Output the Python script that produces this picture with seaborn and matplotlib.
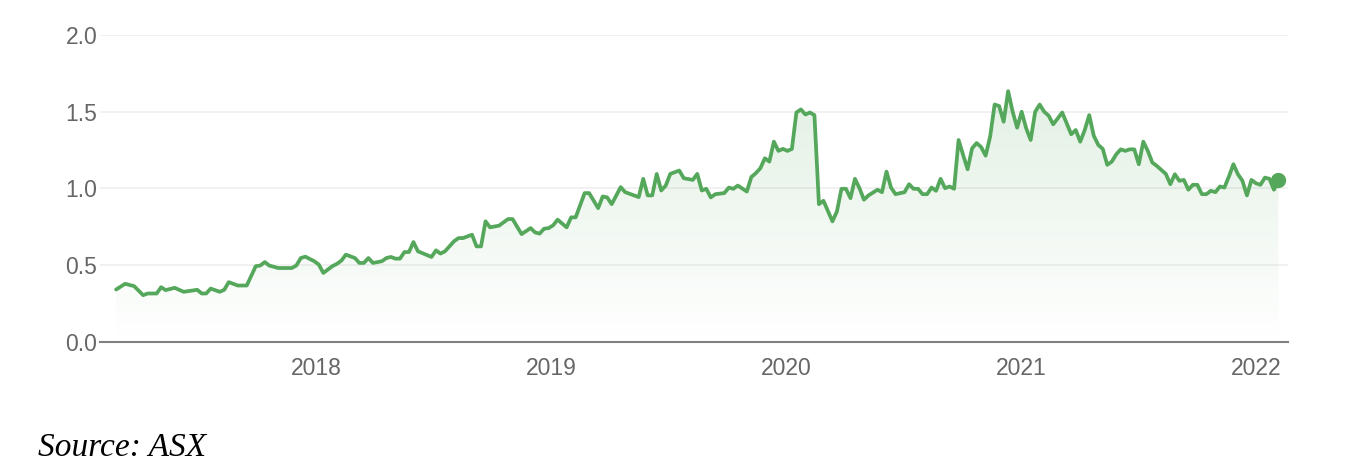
import numpy as np
import pandas as pd
import matplotlib
matplotlib.use("Agg")
import matplotlib.pyplot as plt
import matplotlib.dates as mdates
from matplotlib.colors import LinearSegmentedColormap
import seaborn as sns

# weekly closes (week offset from first point, price in $)
start_date = "2017-02-24"
weeks = [0, 2, 4, 6, 7, 9, 10, 11, 13, 15, 18, 19, 20, 21, 23, 24, 25, 27, 29,
         31, 32, 33, 34, 36, 39, 40, 41, 42, 44, 45, 46, 48, 49, 50, 51, 53, 54,
         55, 56, 57, 59, 60, 61, 62, 63, 64, 65, 66, 67, 70, 71, 72, 73, 75, 76,
         77, 79, 80, 81, 82, 83, 85, 87, 88, 90, 92, 93, 94, 95, 96, 97, 98, 100,
         101, 102, 104, 105, 107, 108, 109, 110, 112, 113, 116, 117, 118, 119,
         120, 121, 122, 123, 125, 126, 128, 129, 130, 131, 132, 133, 135, 136,
         137, 138, 140, 141, 142, 143, 144, 145, 146, 147, 148, 149, 150, 151,
         152, 153, 154, 155, 156, 157, 159, 160, 161, 162, 163, 164, 165, 166,
         167, 169, 170, 171, 172, 173, 175, 176, 177, 178, 179, 180, 181, 182,
         183, 184, 185, 186, 187, 188, 189, 190, 191, 192, 193, 194, 195, 196,
         197, 198, 199, 200, 201, 202, 203, 204, 205, 206, 207, 208, 210, 211,
         212, 213, 214, 215, 216, 217, 218, 219, 220, 221, 222, 223, 224, 225,
         226, 227, 228, 229, 230, 231, 232, 233, 234, 235, 236, 237, 238, 239,
         240, 241, 242, 243, 244, 245, 246, 247, 248, 249, 250, 251, 252, 253,
         254, 255, 256, 257, 258]
prices = [0.342, 0.379, 0.364, 0.305, 0.316, 0.316, 0.357, 0.338, 0.353, 0.327,
          0.340, 0.316, 0.316, 0.348, 0.327, 0.340, 0.390, 0.368, 0.368,
          0.494, 0.498, 0.521, 0.498, 0.482, 0.482, 0.498, 0.547, 0.556, 0.526,
          0.504, 0.450, 0.494, 0.509, 0.530, 0.569, 0.547, 0.515,
          0.515, 0.547, 0.515, 0.526, 0.547, 0.554, 0.543, 0.543, 0.586, 0.586,
          0.651, 0.591, 0.554, 0.597, 0.576, 0.591, 0.656, 0.677,
          0.677, 0.699, 0.623, 0.623, 0.786, 0.747, 0.758, 0.801, 0.801, 0.703,
          0.742, 0.714, 0.706, 0.738, 0.742, 0.760, 0.797, 0.747,
          0.812, 0.812, 0.970, 0.970, 0.872, 0.948, 0.942, 0.898, 1.009, 0.976,
          0.944, 1.063, 0.955, 0.955,
          1.095, 0.987, 1.019, 1.095, 1.117, 1.067, 1.056, 1.095, 0.987, 0.998,
          0.942, 0.963, 0.970, 1.006,
          0.998, 1.019, 0.980, 1.075, 1.100, 1.132, 1.197, 1.175, 1.305, 1.245,
          1.258, 1.245, 1.258, 1.495,
          1.515, 1.482, 1.495, 1.478, 0.898, 0.920, 0.786, 0.851, 0.998, 0.998,
          0.937, 1.063, 1.002, 0.927,
          0.955, 0.992, 0.976, 1.110, 1.006, 0.963, 0.976, 1.028, 0.998, 0.998,
          0.963, 0.963, 1.006, 0.985,
          1.063, 1.002, 1.013, 0.998, 1.316, 1.219, 1.125, 1.262, 1.296, 1.270,
          1.214, 1.338, 1.547, 1.537,
          1.435, 1.634, 1.500, 1.396, 1.500, 1.392, 1.316, 1.500, 1.547, 1.500,
          1.474, 1.418, 1.495, 1.424,
          1.353, 1.381, 1.305, 1.381, 1.478, 1.344, 1.284, 1.258, 1.154, 1.175,
          1.223, 1.255, 1.245, 1.255,
          1.255, 1.158, 1.305, 1.245, 1.169, 1.147, 1.121, 1.095, 1.028, 1.093,
          1.050, 1.056, 0.992, 1.024,
          1.024, 0.963, 0.963, 0.985, 0.976, 1.013, 1.006, 1.078, 1.158, 1.093,
          1.050, 0.955, 1.056, 1.034,
          1.024, 1.071, 1.063, 0.992, 1.056]
y_ticks = [0.0, 0.5, 1.0, 1.5, 2.0]
source_text = "Source: ASX"

green = "#55a85b"
grey_text = "#666666"

df = pd.DataFrame({
    "date": pd.Timestamp(start_date) + pd.to_timedelta(np.array(weeks) * 7, unit="D"),
    "price": prices,
})

sns.set_style("white")
plt.rcParams["font.family"] = ["Liberation Sans", "DejaVu Sans"]

fig, ax = plt.subplots(figsize=(13.46, 4.76), dpi=100)
fig.subplots_adjust(left=0.0743, right=0.957, top=0.9265, bottom=0.2815)

sns.lineplot(data=df, x="date", y="price", color=green, linewidth=2.7,
             ax=ax, zorder=3)
ax.plot(df["date"].iloc[-1], df["price"].iloc[-1], "o", color=green,
        markersize=10, zorder=4)

x_lo = pd.Timestamp("2017-01-30")
x_hi = pd.Timestamp("2022-02-19")
ax.set_xlim(x_lo, x_hi)
ax.set_ylim(0, 2.0)

# soft green gradient under the line
cmap = LinearSegmentedColormap.from_list(
    "fade", [(0.33, 0.66, 0.36, 0.0), (0.33, 0.66, 0.36, 0.17)])
grad = np.linspace(0, 1, 256).reshape(-1, 1)
img = ax.imshow(grad, cmap=cmap, origin="lower", aspect="auto", zorder=2,
                extent=[mdates.date2num(x_lo), mdates.date2num(x_hi), 0, 1.65])
poly = ax.fill_between(df["date"], df["price"], 0, color="none", linewidth=0)
img.set_clip_path(poly.get_paths()[0], transform=ax.transData)
ax.set_xlim(x_lo, x_hi)
ax.set_ylim(0, 2.0)

ax.set_yticks(y_ticks)
ax.set_yticklabels([f"{t:.1f}" for t in y_ticks])
ax.xaxis.set_major_locator(mdates.YearLocator())
ax.xaxis.set_major_formatter(mdates.DateFormatter("%Y"))

ax.grid(axis="y", color="#efefef", linewidth=1.2)
ax.grid(axis="x", visible=False)
for side in ["left", "right", "top"]:
    ax.spines[side].set_visible(False)
ax.spines["bottom"].set_color("#808080")
ax.spines["bottom"].set_linewidth(1.5)

ax.tick_params(axis="y", length=0, pad=2, labelsize=16.5, labelcolor=grey_text)
ax.tick_params(axis="x", length=7, width=1, color="#808080", pad=4,
               labelsize=16.5, labelcolor=grey_text)
ax.set_xlabel("")
ax.set_ylabel("")

fig.text(0.028, 0.042, source_text, fontsize=24, style="italic",
         family=["Liberation Serif", "DejaVu Serif"], color="black")

fig.savefig("out.png", dpi=100, facecolor="white")
